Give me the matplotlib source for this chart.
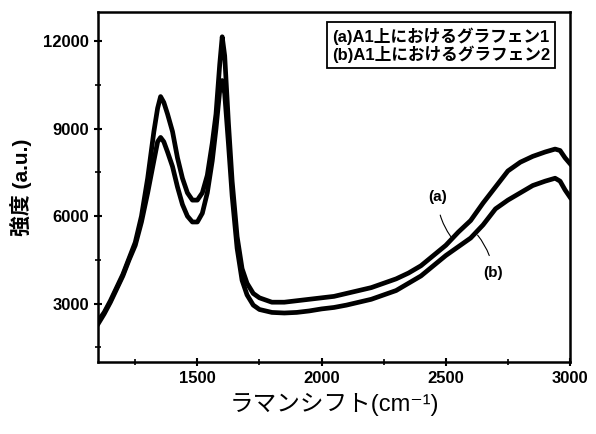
import numpy as np
import matplotlib.pyplot as plt

plt.rcParams['font.family'] = ['Liberation Sans', 'Noto Sans CJK JP', 'DejaVu Sans']

# Raman shift (cm^-1)
shift = [1100, 1125, 1150, 1175, 1200, 1225, 1250, 1275, 1300, 1325, 1340, 1352,
         1365, 1380, 1400, 1420, 1440, 1460, 1480, 1500, 1520, 1540, 1560, 1575,
         1590, 1600, 1610, 1625, 1640, 1660, 1680, 1700, 1725, 1750, 1800, 1850,
         1900, 1950, 2000, 2050, 2100, 2150, 2200, 2250, 2300, 2350, 2400, 2450,
         2500, 2550, 2600, 2650, 2700, 2750, 2800, 2850, 2900, 2940, 2960, 2980, 3000]

# (a) graphene 1 on A1
int_a = [2400, 2700, 3100, 3550, 4000, 4550, 5100, 6000, 7300, 8900, 9700, 10100,
         9900, 9500, 8900, 8000, 7300, 6800, 6550, 6550, 6800, 7400, 8500, 9500,
         11200, 12150, 11500, 9200, 7200, 5300, 4200, 3700, 3350, 3200, 3050, 3050,
         3100, 3150, 3200, 3250, 3350, 3450, 3550, 3700, 3850, 4050, 4300, 4650,
         5000, 5450, 5850, 6450, 7000, 7550, 7850, 8050, 8200, 8300, 8250, 8000, 7800]

# (b) graphene 2 on A1
int_b = [2300, 2650, 3050, 3500, 3950, 4500, 5000, 5800, 6800, 7900, 8550, 8700,
         8550, 8200, 7700, 7000, 6400, 6000, 5800, 5800, 6100, 6800, 7900, 9000,
         10300, 10650, 10200, 8500, 6700, 4900, 3800, 3300, 2950, 2800, 2700, 2680,
         2700, 2750, 2820, 2870, 2950, 3050, 3150, 3300, 3450, 3700, 3950, 4300,
         4650, 4950, 5250, 5700, 6250, 6550, 6800, 7050, 7200, 7300, 7200, 6900, 6650]

legend_text = "(a)A1上におけるグラフェン1\n(b)A1上におけるグラフェン2"

fig = plt.figure(figsize=(5.96, 4.34), dpi=100)
ax = fig.add_axes([0.1644, 0.1659, 0.792, 0.8065])

ax.plot(shift, int_a, color='black', lw=3.4)
ax.plot(shift, int_b, color='black', lw=3.4)

ax.set_xlim(1100, 3000)
ax.set_ylim(1000, 13000)
ax.set_xticks([1500, 2000, 2500, 3000])
ax.set_xticks([1250, 1750, 2250, 2750], minor=True)
ax.set_yticks([3000, 6000, 9000, 12000])
ax.set_yticks([1500, 4500, 7500, 10500], minor=True)
ax.tick_params(which='major', direction='inout', length=6, width=1.5, labelsize=12)
ax.tick_params(which='minor', direction='inout', length=4, width=1.2)
for lab in ax.get_xticklabels() + ax.get_yticklabels():
    lab.set_fontweight('bold')
for sp in ax.spines.values():
    sp.set_linewidth(1.8)

ax.set_xlabel("ラマンシフト(cm⁻¹)", fontsize=17, labelpad=5)
ax.set_ylabel("強度 (a.u.)", fontsize=15, fontweight='bold', labelpad=8)

ax.text(0.495, 0.905, legend_text, transform=ax.transAxes, fontsize=12,
        fontweight='bold', va='center', ha='left', linespacing=1.1,
        bbox=dict(boxstyle='square,pad=0.3', fc='white', ec='black', lw=1.3))

ax.annotate("(a)", xy=(2520, 5300), xytext=(2466, 6650), fontsize=11,
            fontweight='bold', ha='center', va='center',
            arrowprops=dict(arrowstyle='-', lw=0.8, color='black',
                            shrinkA=6, shrinkB=0, connectionstyle='arc3,rad=0.15'))
ax.annotate("(b)", xy=(2628, 5350), xytext=(2691, 4040), fontsize=11,
            fontweight='bold', ha='center', va='center',
            arrowprops=dict(arrowstyle='-', lw=0.8, color='black',
                            shrinkA=6, shrinkB=0, connectionstyle='arc3,rad=0.15'))

fig.savefig("out.png", dpi=100)
